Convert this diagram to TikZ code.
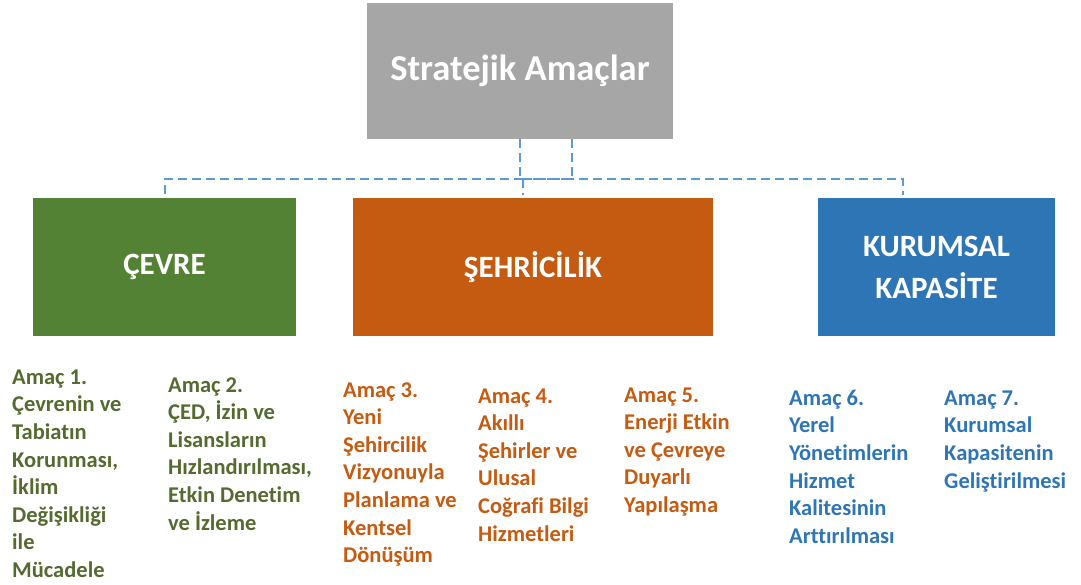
\documentclass[tikz,border=0pt]{standalone}
\usepackage{fontspec}
\setmainfont{Carlito}[Ligatures=NoCommon]
\usepackage{xcolor}
\usetikzlibrary{positioning,calc}

\definecolor{amacgray}{HTML}{A6A6A6}
\definecolor{cevregreen}{HTML}{548235}
\definecolor{cevretext}{HTML}{546A2E}
\definecolor{sehirorange}{HTML}{C55A11}
\definecolor{kurumblue}{HTML}{2E75B6}
\definecolor{linkblue}{HTML}{5B9BD5}

\begin{document}
\begin{tikzpicture}[
    x=1pt, y=-1pt,
    topbox/.style={rectangle, fill=amacgray, text=white, inner sep=0pt, minimum width=306pt, minimum height=136pt, font=\fontsize{36.5}{44}\selectfont\bfseries},
    areabox/.style={rectangle, text=white, inner sep=0pt, minimum height=138pt, align=center, font=\fontsize{31}{42}\selectfont\bfseries},
    goal/.style={anchor=north west, inner sep=0pt, align=left, font=\fontsize{22.5}{27.6}\selectfont\bfseries},
    link/.style={draw=linkblue, line width=2pt, dash pattern=on 9pt off 5pt}
]
\useasboundingbox (0,0) rectangle (1081,584);

% Top box
\node[topbox] (amaclar) at (520,71) {Stratejik Amaçlar};

% Area boxes
\node[areabox, fill=cevregreen, minimum width=263pt] (cevre) at (164.5,267) {ÇEVRE};
\node[areabox, fill=sehirorange, minimum width=360pt] (sehir) at (533,267) {ŞEHRİCİLİK};
\node[areabox, fill=kurumblue, minimum width=237pt] (kurum) at (936.5,267) {KURUMSAL\\KAPASİTE};

% Connectors
\coordinate (bus) at (523,179);
\draw[link] (amaclar.south) -- (amaclar.south |- bus);
\draw[link] ([xshift=52pt]amaclar.south) |- (bus);
\draw[link, shorten >=3pt] (bus) -| (cevre.north);
\draw[link, shorten >=3pt] (bus) -- (bus |- sehir.north);
\draw[link, shorten >=3pt] (bus) -| ([xshift=-33.5pt]kurum.north);

% Goals under ÇEVRE
\node[goal, text=cevretext] (amac1) at (12,364.8) {\strut Amaç 1.\\Çevrenin ve\\Tabiatın\\Korunması,\\İklim\\Değişikliği\\ile\\Mücadele};
\node[goal, text=cevretext] (amac2) at (168,372.5) {\strut Amaç 2.\\ÇED, İzin ve\\Lisansların\\Hızlandırılması,\\Etkin Denetim\\ve İzleme};

% Goals under ŞEHRİCİLİK
\node[goal, text=sehirorange] (amac3) at (343,377.5) {\strut Amaç 3.\\Yeni\\Şehircilik\\Vizyonuyla\\Planlama ve\\Kentsel\\Dönüşüm};
\node[goal, text=sehirorange] (amac4) at (478,383.5) {\strut Amaç 4.\\Akıllı\\Şehirler ve\\Ulusal\\Coğrafi Bilgi\\Hizmetleri};
\node[goal, text=sehirorange] (amac5) at (624,382.5) {\strut Amaç 5.\\Enerji Etkin\\ve Çevreye\\Duyarlı\\Yapılaşma};

% Goals under KURUMSAL KAPASİTE
\node[goal, text=kurumblue] (amac6) at (789,385.8) {\strut Amaç 6.\\Yerel\\Yönetimlerin\\Hizmet\\Kalitesinin\\Arttırılması};
\node[goal, text=kurumblue] (amac7) at (944,385.8) {\strut Amaç 7.\\Kurumsal\\Kapasitenin\\Geliştirilmesi};

\end{tikzpicture}
\end{document}
